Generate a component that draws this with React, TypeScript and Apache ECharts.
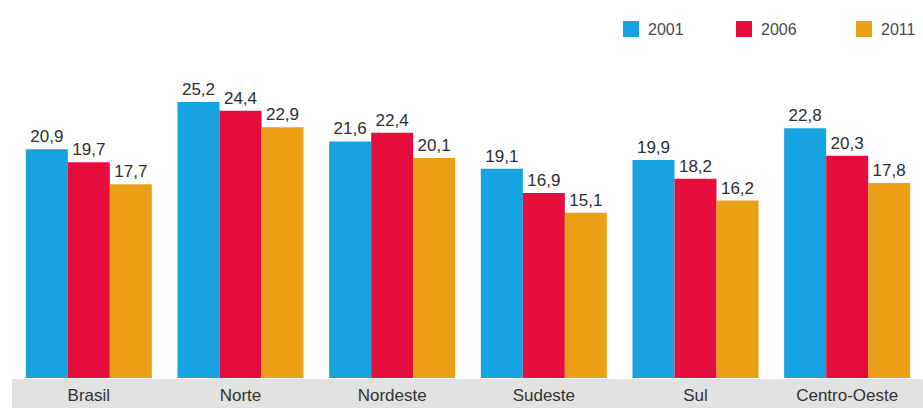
import React, { useEffect, useRef } from "react";
import * as echarts from "echarts";

const categories = ["Brasil", "Norte", "Nordeste", "Sudeste", "Sul", "Centro-Oeste"];
const years = ["2001", "2006", "2011"];
const values2001 = [20.9, 25.2, 21.6, 19.1, 19.9, 22.8];
const values2006 = [19.7, 24.4, 22.4, 16.9, 18.2, 20.3];
const values2011 = [17.7, 22.9, 20.1, 15.1, 16.2, 17.8];
const colors = ["#16a3e2", "#e50d3c", "#eca015"];

export default function App() {
  const ref = useRef<HTMLDivElement>(null);
  useEffect(() => {
    if (!ref.current) return;
    const chart = echarts.init(ref.current, null, { renderer: "svg" });
    const seriesData = [values2001, values2006, values2011];
    const legendLefts = [623, 736, 856];
    chart.setOption({
      animation: false,
      backgroundColor: "#ffffff",
      textStyle: { fontFamily: "Liberation Sans, Arial, sans-serif" },
      legend: years.map((y, i) => ({
        data: [y],
        left: legendLefts[i],
        top: 21,
        itemWidth: 16,
        itemHeight: 16,
        icon: "rect",
        itemGap: 0,
        textStyle: { fontSize: 16, color: "#4a4a4a", padding: [0, 0, 0, 4] },
        padding: 0,
        selectedMode: false,
      })),
      graphic: [
        {
          type: "rect",
          left: 12,
          top: 379,
          shape: { width: 911, height: 29 },
          style: { fill: "#e2e2e2" },
          z: -10,
          silent: true,
        },
      ],
      grid: { left: 13, top: 49.5, width: 921.6, bottom: 30, containLabel: false },
      xAxis: {
        type: "category",
        data: categories,
        axisLine: { show: false },
        axisTick: { show: false },
        axisLabel: { color: "#333", fontSize: 17, margin: 9 },
      },
      yAxis: {
        type: "value",
        min: 0,
        max: 30,
        show: false,
        splitLine: { show: false },
      },
      series: years.map((y, i) => ({
        name: y,
        type: "bar",
        data: seriesData[i],
        barWidth: 42,
        barGap: "0%",
        itemStyle: { color: colors[i] },
        label: {
          show: true,
          position: "top",
          distance: 4,
          color: "#2e2e2e",
          fontSize: 17,
          formatter: (p: any) => String(p.value).replace(".", ","),
        },
      })),
    });
    return () => chart.dispose();
  }, []);
  return <div ref={ref} style={{ width: 923, height: 408, position: "absolute", left: 0, top: 0 }} />;
}
